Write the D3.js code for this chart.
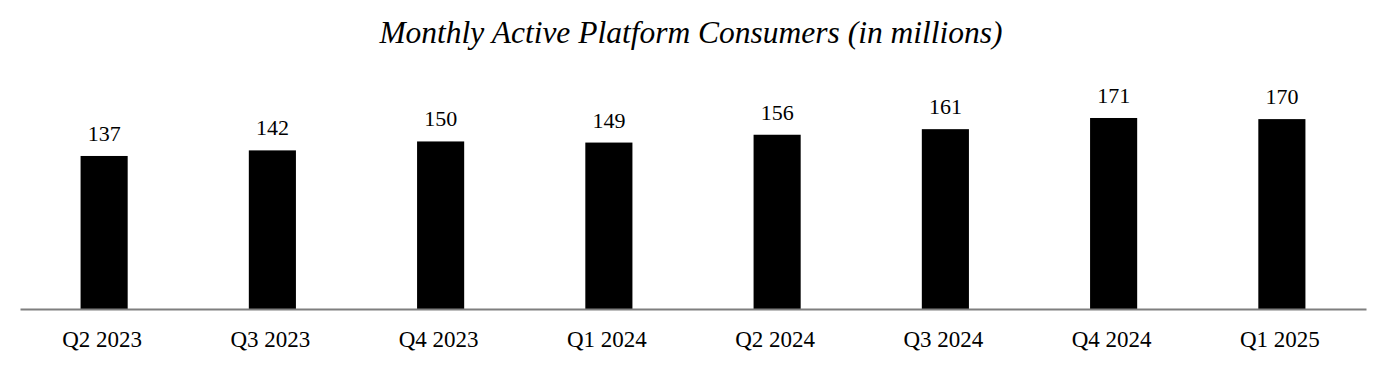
<!DOCTYPE html>
<html lang="en">
<head>
<meta charset="utf-8">
<title>Monthly Active Platform Consumers</title>
<script src="https://d3js.org/d3.v7.min.js"></script>
<style>
  body { margin: 0; background: #fff; }
  .title { font-family: "Liberation Serif", "Times New Roman", serif; font-style: italic; font-size: 31.5px; }
  .value { font-family: "Liberation Serif", "Times New Roman", serif; font-size: 22px; }
  .tick text { font-family: "Liberation Serif", "Times New Roman", serif; font-size: 23px; fill: #000; }
</style>
</head>
<body>
<div id="vis"></div>
<script>
const quarters = ["Q2 2023", "Q3 2023", "Q4 2023", "Q1 2024", "Q2 2024", "Q3 2024", "Q4 2024", "Q1 2025"];
const consumers = [137, 142, 150, 149, 156, 161, 171, 170];

const width = 1386;
const height = 372;
const baseY = 309;

const svg = d3.select("#vis")
  .append("svg")
  .attr("width", width)
  .attr("height", height);

const xScale = d3.scaleBand()
  .domain(quarters)
  .range([20, 1366])
  .paddingInner(0.72)
  .paddingOuter(0.36);

// 171 -> 191px tall bar
const yScale = d3.scaleLinear()
  .domain([0, 200])
  .range([baseY, baseY - 223.4]);

const data = quarters.map((q, i) => ({ q: q, v: consumers[i] }));

svg.selectAll(".bar")
  .data(data)
  .enter()
  .append("rect")
  .attr("class", "bar")
  .attr("x", d => xScale(d.q))
  .attr("y", d => yScale(d.v))
  .attr("width", xScale.bandwidth())
  .attr("height", d => baseY - yScale(d.v))
  .attr("fill", "#000");

svg.selectAll(".value")
  .data(data)
  .enter()
  .append("text")
  .attr("class", "value")
  .attr("x", d => xScale(d.q) + xScale.bandwidth() / 2)
  .attr("y", d => yScale(d.v) - 15)
  .attr("text-anchor", "middle")
  .text(d => d.v);

const axis = svg.append("g")
  .attr("transform", "translate(0," + baseY + ")")
  .call(d3.axisBottom(xScale).tickSize(0).tickPadding(22));
axis.select(".domain").attr("stroke", "#7f7f7f").attr("stroke-width", 2);
axis.selectAll(".tick text").attr("dx", -2);

svg.append("text")
  .attr("class", "title")
  .attr("x", 691)
  .attr("y", 43)
  .attr("text-anchor", "middle")
  .text("Monthly Active Platform Consumers (in millions)");
</script>
</body>
</html>
